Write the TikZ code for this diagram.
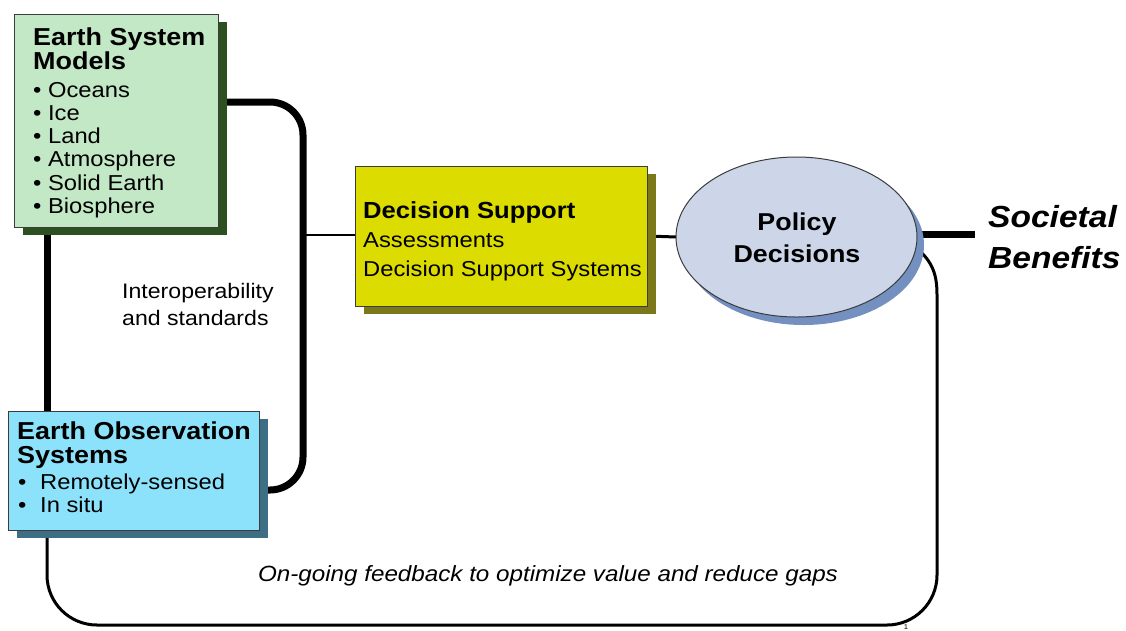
\documentclass[tikz,border=0pt]{standalone}
\usepackage{fontspec}
\setmainfont{Liberation Sans}[FakeStretch=1.1]
\usetikzlibrary{shadows,backgrounds,shapes.geometric}
\definecolor{esmfill}{RGB}{195,232,197}
\definecolor{esmshad}{RGB}{44,80,32}
\definecolor{eosfill}{RGB}{140,226,250}
\definecolor{eosshad}{RGB}{62,110,132}
\definecolor{dsfill}{RGB}{220,220,0}
\definecolor{dsshad}{RGB}{122,120,26}
\definecolor{pdfill}{RGB}{205,214,232}
\definecolor{pdshad}{RGB}{116,144,192}
\definecolor{edge}{RGB}{60,60,60}
\tikzset{
  boxnode/.style={draw=edge, line width=1pt, inner sep=0pt, outer sep=0pt},
  shad/.style={drop shadow={shadow xshift=9pt, shadow yshift=-8pt, fill=#1, opacity=1}},
  ttl/.style={anchor=base west, inner sep=0pt, font=\fontsize{24.5}{25}\selectfont\bfseries},
  txt/.style={anchor=base west, inner sep=0pt, font=\fontsize{21.6}{23}\selectfont},
  bigline/.style={line width=7pt},
  thinline/.style={line width=2pt},
  fbline/.style={line width=3pt},
}
\begin{document}
\begin{tikzpicture}[x=1pt,y=-1pt]
\useasboundingbox (0,0) rectangle (1126,630);
% boxes
\node[boxnode, fill=esmfill, shad=esmshad, minimum width=204pt, minimum height=213pt] (esm) at (116,120.5) {};
\node[boxnode, fill=eosfill, shad=eosshad, minimum width=251pt, minimum height=119pt] (eos) at (133.5,470.5) {};
\node[boxnode, fill=dsfill, shad=dsshad, minimum width=292pt, minimum height=140pt] (ds) at (501,236) {};
\node[boxnode, ellipse, fill=pdfill, drop shadow={shadow xshift=7pt, shadow yshift=-8pt, fill=pdshad, opacity=1}, minimum width=241pt, minimum height=160pt] (pd) at (796.5,237) {};
% ESM text
\node[ttl] (esmt1) at (33,45) {Earth System};
\node[ttl] (esmt2) at (33,69) {Models};
\foreach \t [count=\i from 0] in {Oceans,Ice,Land,Atmosphere,Solid Earth,Biosphere}
  \node[txt] (esmb\i) at (33,97+23.3*\i) {•\ \t};
% EOS text
\node[ttl] (eost1) at (17,439) {Earth Observation};
\node[ttl] (eost2) at (17,463) {Systems};
\node[txt] (eosb1) at (18,489) {\makebox[22pt][l]{•}Remotely-sensed};
\node[txt] (eosb2) at (18,512) {\makebox[22pt][l]{•}In situ};
% DS text
\node[ttl, font=\fontsize{23.3}{25}\selectfont\bfseries] (dst1) at (363,218) {Decision Support};
\node[txt] (dst2) at (363,247) {Assessments};
\node[txt] (dst3) at (363,276) {Decision Support Systems};
% PD text
\node[anchor=base, inner sep=0pt, font=\fontsize{24.4}{25}\selectfont\bfseries] (pdt1) at (797,230) {Policy};
\node[anchor=base, inner sep=0pt, font=\fontsize{24.4}{25}\selectfont\bfseries] (pdt2) at (797,262) {Decisions};
% Societal benefits
\node[anchor=base west, inner sep=0pt, font=\fontsize{30.5}{31}\selectfont\bfseries\itshape] (sb1) at (988,227) {Societal};
\node[anchor=base west, inner sep=0pt, font=\fontsize{30.5}{31}\selectfont\bfseries\itshape] (sb2) at (988,268) {Benefits};
% labels
\node[txt, font=\fontsize{21}{23}\selectfont] (io1) at (122,298) {Interoperability};
\node[txt, font=\fontsize{21}{23}\selectfont] (io2) at (122,325) {and standards};
\node[anchor=base, inner sep=0pt, font=\fontsize{22}{23}\selectfont\itshape] (fbt) at (548,581) {On-going feedback to optimize value and reduce gaps};
\node[anchor=base, inner sep=0pt, font=\fontsize{7}{8}\selectfont] (pg) at (906,629.3) {1};
% connectors
\coordinate (j) at (303,235);
\coordinate (lx) at (47,0);
\coordinate (sb) at (975,234);
\coordinate (fbr) at (937,295);
\coordinate (fbbr) at (937,625);
\coordinate (fbbl) at (47,625);
\begin{scope}[on background layer]
  \draw[bigline, rounded corners=33pt] (esm.east |- 0,102) -| (j) |- (eos.east |- 0,490);
  \draw[thinline] (j) -- (ds.west |- j);
  \draw[line width=3pt] (ds.east) -- (pd.west);
  \draw[bigline] (esm.south -| lx) -- (eos.north -| lx);
  \draw[bigline] (pd.east |- sb) -- (sb);
  \draw[fbline] (pd.-5) .. controls (933,262) and (937,275) .. (fbr)
     [rounded corners=50pt] -- (fbbr) -- (fbbl) -- (eos.south -| lx);
\end{scope}
\end{tikzpicture}
\end{document}
